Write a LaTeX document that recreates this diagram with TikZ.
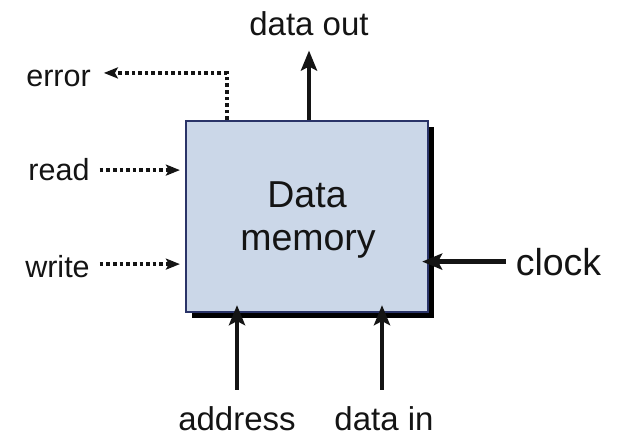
\documentclass[tikz,border=0pt]{standalone}
\usepackage{fontspec}
\setmainfont{Liberation Sans}
\usetikzlibrary{arrows.meta,shadows}
\definecolor{boxfill}{HTML}{CBD7E8}
\definecolor{boxline}{HTML}{2A3468}
\definecolor{ink}{HTML}{141414}
\begin{document}
\begin{tikzpicture}[x=1pt,y=-1pt,
  lbl/.style={inner sep=0pt,anchor=base,text=ink},
  small/.style={lbl,font=\fontsize{30.5}{36}\selectfont},
  mid/.style={lbl,font=\fontsize{33}{40}\selectfont},
  big/.style={lbl,font=\fontsize{37.5}{44}\selectfont},
  membox/.style={draw=boxline,line width=2.2pt,fill=boxfill,minimum width=242pt,minimum height=191pt,inner sep=0pt,
    drop shadow={shadow xshift=6pt,shadow yshift=-6pt,fill=black,opacity=1}},
  solidarrow/.style={draw=ink,line width=4.6pt,-{Stealth[length=20pt,width=16pt,inset=4pt]}},
  dotarrow/.style={draw=ink,line width=4pt,dash pattern=on 3.6pt off 3pt,-{Stealth[length=14pt,width=11pt,inset=3pt]}}]
\useasboundingbox (0,0) rectangle (617,436);
\node[membox] (box) at (307,216.5) {};
\node[big,align=center] (t1) at (307,207) {Data};
\node[big] (t2) at (308,250) {memory};
\node[mid] (dout) at (309,35) {data out};
\node[small] (err) at (58.5,86) {error};
\node[small] (read) at (59,180) {read};
\node[small] (write) at (57.5,277) {write};
\node[big] (clock) at (558.5,275) {clock};
\node[mid] (addr) at (237,430) {address};
\node[mid] (din) at (384,430) {data in};
% connectors
\draw[solidarrow,shorten >=15pt] (box.north -| dout.south) -- (dout.south);
\draw[dotarrow,shorten >=13pt] ([xshift=42pt]box.north west) |- ([yshift=5pt]err.east);
\draw[dotarrow,shorten <=10pt,shorten >=5pt] ([yshift=-1pt]read.east) -- ([yshift=-1pt]read.east -| box.west);
\draw[dotarrow,shorten <=10pt,shorten >=5pt] ([yshift=2pt]write.east) -- ([yshift=2pt]write.east -| box.west);
\draw[solidarrow,shorten <=10pt,shorten >=-7pt] (clock.west) -- (clock.west -| box.east);
\draw[solidarrow,shorten <=16pt,shorten >=-8pt] (addr.north) -- (addr.north |- box.south);
\draw[solidarrow,shorten <=16pt,shorten >=-8pt] ([xshift=-2pt]din.north) -- ([xshift=-2pt]din.north |- box.south);
\end{tikzpicture}
\end{document}
